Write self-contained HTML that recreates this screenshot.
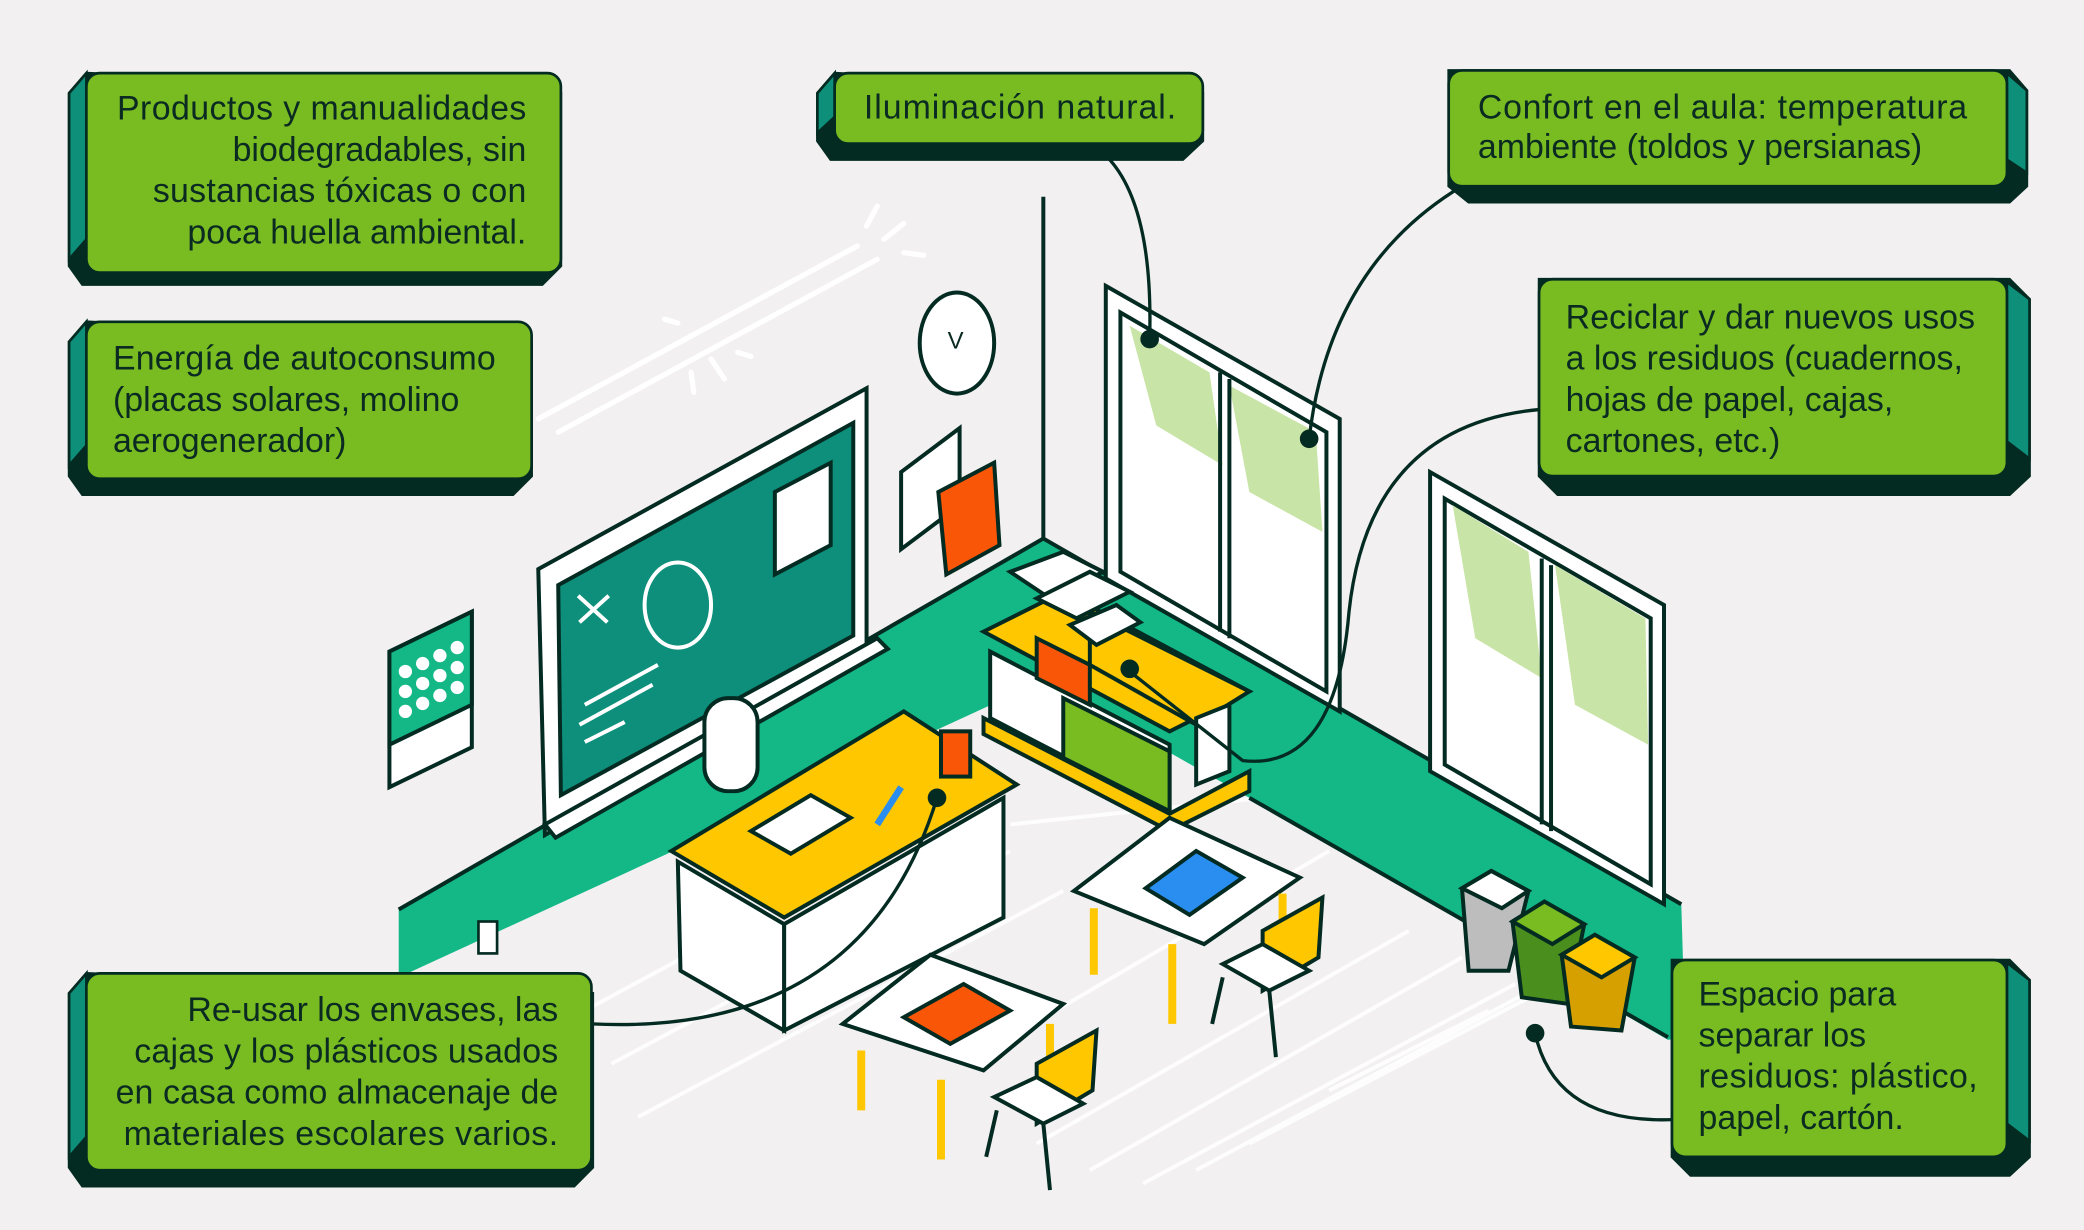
<!DOCTYPE html>
<html><head><meta charset="utf-8"><style>
html,body{margin:0;padding:0;background:#f2f0f0;}
svg{display:block;}
text{font-family:"Liberation Sans",sans-serif;font-size:25.5px;fill:#0a2a22;}
</style></head><body>
<svg width="2084" height="1230" viewBox="0 0 1568 925" preserveAspectRatio="none" xmlns="http://www.w3.org/2000/svg">
<rect width="1568" height="925" fill="#f2f0f0"/>
<g stroke="#fff" stroke-width="4" stroke-linecap="round" fill="none">
<line x1="405" y1="315" x2="645" y2="185"/><line x1="420" y1="325" x2="660" y2="195"/>
<line x1="652" y1="170" x2="660" y2="155"/><line x1="665" y1="180" x2="680" y2="168"/><line x1="680" y1="190" x2="695" y2="192"/>
<line x1="500" y1="240" x2="510" y2="243"/><line x1="520" y1="280" x2="522" y2="295"/><line x1="535" y1="270" x2="545" y2="285"/><line x1="555" y1="265" x2="565" y2="268"/>
</g>
<g stroke="#fff" stroke-width="3" opacity="0.9">
<line x1="440" y1="760" x2="700" y2="620"/><line x1="460" y1="800" x2="760" y2="640"/><line x1="480" y1="840" x2="800" y2="670"/>
<line x1="780" y1="860" x2="1060" y2="700"/><line x1="820" y1="880" x2="1100" y2="720"/><line x1="860" y1="890" x2="1140" y2="740"/>
<line x1="900" y1="880" x2="1180" y2="730"/><line x1="940" y1="860" x2="1170" y2="740"/><line x1="1000" y1="820" x2="1120" y2="760"/>
<line x1="760" y1="620" x2="950" y2="600"/><line x1="1000" y1="640" x2="760" y2="780"/>
</g>
<polygon points="300,684 785,405 1265,680 1268,780 1255,782 940,600 785,512 300,735" fill="#14b887"/>
<polyline points="300,684 785,405 1265,680" fill="none" stroke="#042b22" stroke-width="3"/>
<line x1="785" y1="148" x2="785" y2="405" stroke="#042b22" stroke-width="3"/>
<line x1="940" y1="600" x2="1255" y2="780" stroke="#042b22" stroke-width="3"/>
<ellipse cx="720" cy="258" rx="28" ry="38" fill="#fff" stroke="#042b22" stroke-width="3"/>
<text x="713" y="262" style="font-size:18px">V</text>
<polygon points="678,355 722,322 722,380 678,413" fill="#fff" stroke="#042b22" stroke-width="3"/>
<polygon points="706,370 748,348 752,410 712,432" fill="#fa5608" stroke="#042b22" stroke-width="3"/>
<polygon points="293,490 355,460 355,562 293,592" fill="#fff" stroke="#042b22" stroke-width="3"/>
<polygon points="293,490 355,460 355,530 293,560" fill="#14b887" stroke="#042b22" stroke-width="3"/>
<g fill="#fff"><circle cx="305" cy="505" r="5"/><circle cx="318" cy="499" r="5"/><circle cx="331" cy="493" r="5"/><circle cx="344" cy="487" r="5"/>
<circle cx="305" cy="520" r="5"/><circle cx="318" cy="514" r="5"/><circle cx="331" cy="508" r="5"/><circle cx="344" cy="502" r="5"/>
<circle cx="305" cy="535" r="5"/><circle cx="318" cy="529" r="5"/><circle cx="331" cy="523" r="5"/><circle cx="344" cy="517" r="5"/></g>
<rect x="360" y="693" width="14" height="24" fill="#fff" stroke="#042b22" stroke-width="2"/>
<polygon points="405,428 652,292 652,488 410,628" fill="#fff" stroke="#042b22" stroke-width="3"/>
<polygon points="420,440 642,318 642,478 422,598" fill="#0d8f7b" stroke="#042b22" stroke-width="3"/>
<polygon points="410,620 660,480 668,488 418,630" fill="#fff" stroke="#042b22" stroke-width="3"/>
<polygon points="583,370 625,348 625,410 583,432" fill="#fff" stroke="#042b22" stroke-width="3"/>
<ellipse cx="510" cy="455" rx="25" ry="32" fill="none" stroke="#fff" stroke-width="3"/>
<path d="M435 448l22 20M458 448l-22 20M440 530l55-30M436 545l55-30M440 558l30-15" stroke="#fff" stroke-width="3" fill="none"/>
<g stroke="#042b22" stroke-width="3">
<polygon points="832,215 1008,315 1008,535 832,435" fill="#fff"/>
<polygon points="843,235 998,325 998,520 843,430" fill="#fff"/>
<polygon points="850,245 910,280 920,350 870,320" fill="#c8e4a6" stroke="none"/>
<polygon points="925,290 990,325 995,400 940,370" fill="#c8e4a6" stroke="none"/>
<line x1="918" y1="280" x2="918" y2="475"/><line x1="925" y1="285" x2="925" y2="480"/>
<polygon points="1076,355 1252,455 1252,680 1076,580" fill="#fff"/>
<polygon points="1087,375 1242,465 1242,665 1087,575" fill="#fff"/>
<polygon points="1093,380 1150,415 1160,510 1110,480" fill="#c8e4a6" stroke="none"/>
<polygon points="1170,425 1238,465 1240,560 1185,530" fill="#c8e4a6" stroke="none"/>
<line x1="1160" y1="420" x2="1160" y2="620"/><line x1="1167" y1="425" x2="1167" y2="625"/>
</g>
<g stroke="#042b22" stroke-width="3">
<polygon points="740,475 800,445 940,520 880,550" fill="#ffc700"/>
<polygon points="745,490 880,560 880,610 745,540" fill="#fff"/>
<polygon points="800,525 880,565 880,610 800,570" fill="#78bc21"/>
<polygon points="740,540 880,612 940,580 940,595 880,625 740,552" fill="#ffc700"/>
<polygon points="780,480 820,500 820,530 780,510" fill="#fa5608"/>
<polygon points="820,460 940,520 900,545 820,500" fill="#ffc700"/>
<polygon points="760,430 800,415 830,430 790,450" fill="#fff"/>
<polygon points="780,450 820,430 850,445 810,465" fill="#fff"/>
<polygon points="805,470 840,455 858,468 825,485" fill="#fff"/>
<polygon points="900,540 925,530 925,580 900,590" fill="#fff"/>
</g>
<rect x="530" y="525" width="40" height="70" rx="18" fill="#fff" stroke="#042b22" stroke-width="3"/>
<g stroke="#042b22" stroke-width="3">
<polygon points="505,640 680,535 765,590 590,690" fill="#ffc700"/>
<polygon points="510,648 590,695 590,775 512,730" fill="#fff"/>
<polygon points="590,695 755,600 755,690 590,775" fill="#fff"/>
<polygon points="565,625 610,598 640,615 595,642" fill="#fff"/>
<rect x="708" y="550" width="22" height="34" fill="#fa5608"/>
<line x1="660" y1="620" x2="678" y2="592" stroke="#2a8ef0" stroke-width="5"/>
</g>
<g stroke="#042b22" stroke-width="3">
<polygon points="808,670 880,615 978,660 906,710" fill="#fff"/>
<polygon points="862,668 900,640 935,660 895,688" fill="#2a8ef0"/>
<path d="M823 683v50M882 710v60M965 672v40" stroke="#ffc700" stroke-width="6"/>
<polygon points="634,770 700,718 800,755 740,805" fill="#fff"/>
<polygon points="680,765 725,740 760,760 715,785" fill="#fa5608"/>
<path d="M648 790v45M708 812v60M790 770v40" stroke="#ffc700" stroke-width="6"/>
<polygon points="950,700 995,675 992,720 950,745" fill="#ffc700"/>
<polygon points="920,725 950,710 985,730 955,745" fill="#fff"/>
<polygon points="780,800 825,775 822,820 780,845" fill="#ffc700"/>
<polygon points="748,825 780,810 815,830 785,845" fill="#fff"/>
<path d="M920 735l-8 35M955 745l5 50M750 835l-8 35M785 845l5 50" fill="none"/>
</g>
<g stroke="#042b22" stroke-width="3">
<polygon points="1100,668 1122,655 1150,670 1135,730 1105,730" fill="#bdbdbd"/>
<polygon points="1100,668 1122,655 1150,670 1130,683" fill="#fff"/>
<polygon points="1138,693 1162,678 1192,695 1180,755 1145,750" fill="#4a8f1e"/>
<polygon points="1138,693 1162,678 1192,695 1168,710" fill="#78bc21"/>
<polygon points="1175,718 1200,703 1230,720 1220,775 1182,772" fill="#d6a000"/>
<polygon points="1175,718 1200,703 1230,720 1205,735" fill="#ffc700"/>
</g>
<g stroke="#042b22" stroke-width="2.5" fill="none">
<path d="M830 115 Q868 150 865 255"/>
<path d="M1100 140 Q1000 200 985 330"/>
<path d="M1158 308 Q1030 320 1015 460 Q1005 580 935 572 L850 505"/>
<path d="M705 600 Q650 780 445 770"/>
<path d="M1155 777 Q1170 845 1258 842"/>
</g>
<g fill="#042b22"><circle cx="865" cy="255" r="7"/><circle cx="985" cy="330" r="7"/><circle cx="850" cy="503" r="7"/><circle cx="705" cy="600" r="7"/><circle cx="1155" cy="777" r="7"/></g>
<g stroke="#042b22" stroke-width="2">
<path d="M65 55 L52 70 V200 L62 214 H408 L422 200 V70 Z" fill="#042b22"/><path d="M65 55 L52 70 V195 L65 180 Z" fill="#0e8f7a"/>
<rect x="65" y="55" width="357" height="150" rx="10" fill="#78bc21"/>
<path d="M65 242 L52 257 V358 L62 372 H386 L400 358 V257 Z" fill="#042b22"/><path d="M65 242 L52 257 V350 L65 335 Z" fill="#0e8f7a"/>
<rect x="65" y="242" width="335" height="118" rx="10" fill="#78bc21"/>
<path d="M628 55 L615 70 V106 L625 120 H890 L905 106 V70 Z" fill="#042b22"/><path d="M628 55 L615 70 V100 L628 88 Z" fill="#0e8f7a"/>
<rect x="628" y="55" width="277" height="53" rx="10" fill="#78bc21"/>
<path d="M1090 53 H1512 L1525 68 V140 L1512 152 H1105 L1090 140 Z" fill="#042b22"/><path d="M1510 55 L1525 68 V130 L1510 120 Z" fill="#0e8f7a"/>
<rect x="1090" y="53" width="420" height="87" rx="10" fill="#78bc21"/>
<path d="M1158 210 H1512 L1527 225 V358 L1512 372 H1172 L1158 358 Z" fill="#042b22"/><path d="M1510 212 L1527 225 V345 L1510 332 Z" fill="#0e8f7a"/>
<rect x="1158" y="210" width="352" height="148" rx="10" fill="#78bc21"/>
<path d="M65 732 L52 747 V878 L62 892 H432 L446 878 V747 Z" fill="#042b22"/><path d="M65 732 L52 747 V870 L65 855 Z" fill="#0e8f7a"/>
<rect x="65" y="732" width="380" height="148" rx="10" fill="#78bc21"/>
<path d="M1258 722 H1512 L1527 737 V870 L1512 884 H1272 L1258 870 Z" fill="#042b22"/><path d="M1510 724 L1527 737 V858 L1510 845 Z" fill="#0e8f7a"/>
<rect x="1258" y="722" width="252" height="148" rx="10" fill="#78bc21"/>
</g>
<g text-anchor="end">
<text x="396" y="90" textLength="308">Productos y manualidades</text><text x="396" y="121">biodegradables, sin</text><text x="396" y="152" textLength="281">sustancias tóxicas o con</text><text x="396" y="183">poca huella ambiental.</text>
<text x="420" y="768">Re-usar los envases, las</text><text x="420" y="799" textLength="319">cajas y los plásticos usados</text><text x="420" y="830" textLength="333">en casa como almacenaje de</text><text x="420" y="861" textLength="327">materiales escolares varios.</text>
</g>
<text x="85" y="278" textLength="288">Energía de autoconsumo</text><text x="85" y="309">(placas solares, molino</text><text x="85" y="340">aerogenerador)</text>
<text x="650" y="89" textLength="235">Iluminación natural.</text>
<text x="1112" y="89" textLength="368">Confort en el aula: temperatura</text><text x="1112" y="119">ambiente (toldos y persianas)</text>
<text x="1178" y="247" textLength="308">Reciclar y dar nuevos usos</text><text x="1178" y="278">a los residuos (cuadernos,</text><text x="1178" y="309">hojas de papel, cajas,</text><text x="1178" y="340">cartones, etc.)</text>
<text x="1278" y="756">Espacio para</text><text x="1278" y="787">separar los</text><text x="1278" y="818" textLength="210">residuos: plástico,</text><text x="1278" y="849">papel, cartón.</text>
</svg>
</body></html>
